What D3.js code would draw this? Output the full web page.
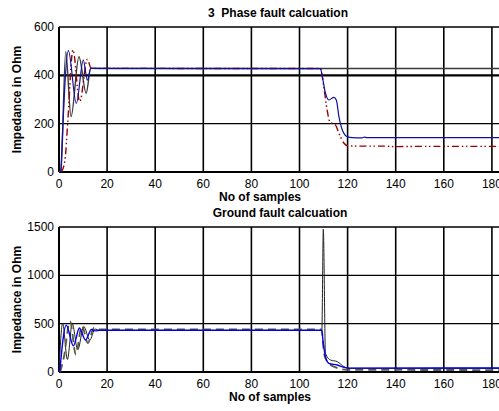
<!DOCTYPE html>
<html>
<head>
<meta charset="utf-8">
<script src="https://cdn.jsdelivr.net/npm/d3@7"></script>
<style>
  body { margin: 0; background: #fff; }
  svg { display: block; }
</style>
</head>
<body>
<svg id="chart" width="499" height="411"></svg>
<script>
// x ticks shared by both panels
var xTicks = [0, 20, 40, 60, 80, 100, 120, 140, 160, 180];

// 3 phase fault panel
var phaseTicks = [0, 200, 400, 600];
var phaseBlack = [[0, 0], [0.8, 10], [2.8, 498], [5, 229], [8.3, 477], [11.3, 326], [13.2, 429], [20, 428], [108, 428], [200, 428]];
var phaseBlue = [[0.8, 0], [3.9, 502], [7.2, 284], [10.1, 463], [11.8, 380], [13.2, 429], [108.7, 428], [109.5, 394], [110.8, 326],
  [112.2, 298], [114.3, 309], [115.3, 298], [116.4, 229], [117.8, 174], [119.9, 146], [122, 142], [126, 141], [127, 144], [128, 142], [200, 142]];
var phaseRed = [[1, 0], [2.5, 50], [3.6, 200], [5.8, 505], [8.6, 291], [11.8, 466], [13.4, 429], [108.7, 428], [110.1, 353], [111.5, 256],
  [112.6, 208], [115, 194], [116.4, 160], [118.5, 119], [119.9, 109], [125, 107], [135, 107], [140, 105], [150, 106], [200, 106]];

// ground fault panel
var groundTicks = [0, 500, 1000, 1500];
var groundBlack = [[0, 0], [1.5, 505], [3.5, 130], [5.5, 500], [7.8, 230], [10.3, 470], [12.8, 330], [15, 445], [17, 430], [109.3, 430],
  [109.9, 1477], [110.8, 193], [112.9, 124], [115.7, 107], [118.5, 55], [120.6, 38], [200, 38]];
var groundBlue = [[0.3, 0], [3, 485], [6, 270], [8.5, 455], [11, 330], [13.5, 440], [15, 425], [17, 432], [109.2, 432], [109.9, 297],
  [110.8, 159], [112.2, 90], [115.7, 72], [118.5, 48], [120.6, 40], [200, 42]];
var groundDash = [[0.5, 0], [2, 150], [4.6, 525], [7, 180], [9.5, 480], [12, 300], [14.5, 455], [17, 440], [109.2, 440], [110.2, 190],
  [111.5, 110], [114.3, 55], [119.9, 22], [200, 20]];

var svg = d3.select("#chart");
var font = "Liberation Sans, Arial, sans-serif";

var x = d3.scaleLinear().domain([0, 200]).range([59, 540]);

var drawPanel = function (opt) {
    var y = d3.scaleLinear().domain(opt.domain).range([opt.bottom, opt.top]);
    var g = svg.append("g");

    // grid
    g.append("g").selectAll("line")
        .data(xTicks.slice(1))
        .join("line")
        .attr("x1", function (d) { return x(d); })
        .attr("x2", function (d) { return x(d); })
        .attr("y1", y(opt.domain[0]))
        .attr("y2", y(opt.domain[1]))
        .attr("stroke", "#000")
        .attr("stroke-width", 1.6);
    g.append("g").selectAll("line")
        .data(opt.ticks.slice(1, -1))
        .join("line")
        .attr("x1", x(0))
        .attr("x2", 499)
        .attr("y1", function (d) { return y(d); })
        .attr("y2", function (d) { return y(d); })
        .attr("stroke", "#000")
        .attr("stroke-width", function (d) { return d === opt.boldTick ? 2.2 : 1.4; });

    // frame
    g.append("line").attr("x1", x(0)).attr("x2", 499).attr("y1", y(opt.domain[1])).attr("y2", y(opt.domain[1]))
        .attr("stroke", "#000").attr("stroke-width", 1.5);
    g.append("line").attr("x1", x(0)).attr("x2", 499).attr("y1", y(0)).attr("y2", y(0))
        .attr("stroke", "#000").attr("stroke-width", 2);
    g.append("line").attr("x1", x(0)).attr("x2", x(0)).attr("y1", y(0)).attr("y2", y(opt.domain[1]))
        .attr("stroke", "#000").attr("stroke-width", 2);

    // series
    var line = d3.line()
        .x(function (d) { return x(d[0]); })
        .y(function (d) { return y(d[1]); })
        .curve(d3.curveMonotoneX);
    opt.series.forEach(function (s) {
        g.append("path")
            .attr("d", line(s.data))
            .attr("fill", "none")
            .attr("stroke", s.color)
            .attr("stroke-width", s.width)
            .attr("stroke-dasharray", s.dash || null);
    });

    // tick labels
    g.append("g").selectAll("text")
        .data(xTicks)
        .join("text")
        .attr("x", function (d) { return x(d); })
        .attr("y", y(0) + 16)
        .attr("text-anchor", "middle")
        .style("font", "12px " + font)
        .text(function (d) { return d; });
    g.append("g").selectAll("text")
        .data(opt.ticks)
        .join("text")
        .attr("x", 54)
        .attr("y", function (d) { return y(d) + 4; })
        .attr("text-anchor", "end")
        .style("font", "12px " + font)
        .text(function (d) { return d; });

    // titles
    g.append("text")
        .attr("x", opt.titleX).attr("y", opt.top - 10)
        .attr("text-anchor", "middle")
        .style("font", "bold 12px " + font)
        .style("white-space", "pre")
        .text(opt.title);
    g.append("text")
        .attr("x", opt.xLabelX).attr("y", y(0) + 29)
        .attr("text-anchor", "middle")
        .style("font", "bold 12px " + font)
        .text("No of samples");
    g.append("text")
        .attr("transform", "translate(21," + ((opt.top + opt.bottom) / 2) + ") rotate(-90)")
        .attr("text-anchor", "middle")
        .style("font", "bold 12px " + font)
        .text("Impedance in Ohm");
};

drawPanel({
    domain: [0, 600], top: 27, bottom: 172, ticks: phaseTicks, boldTick: 400,
    title: "3  Phase fault calcuation", titleX: 278, xLabelX: 260,
    series: [
        { data: phaseBlack, color: "#3a3a3a", width: 1.4 },
        { data: phaseRed, color: "#990000", width: 1.4, dash: "7,3,1.5,2.5,1.5,3" },
        { data: phaseBlue, color: "#1010a0", width: 1.2 }
    ]
});

drawPanel({
    domain: [0, 1500], top: 227, bottom: 372, ticks: groundTicks, boldTick: null,
    title: "Ground fault calcuation", titleX: 280, xLabelX: 270,
    series: [
        { data: groundBlack, color: "#222", width: 1 },
        { data: groundDash, color: "#5a5a3a", width: 1.8, dash: "8,5" },
        { data: groundBlue, color: "#0000ee", width: 1.4 }
    ]
});
</script>
</body>
</html>
